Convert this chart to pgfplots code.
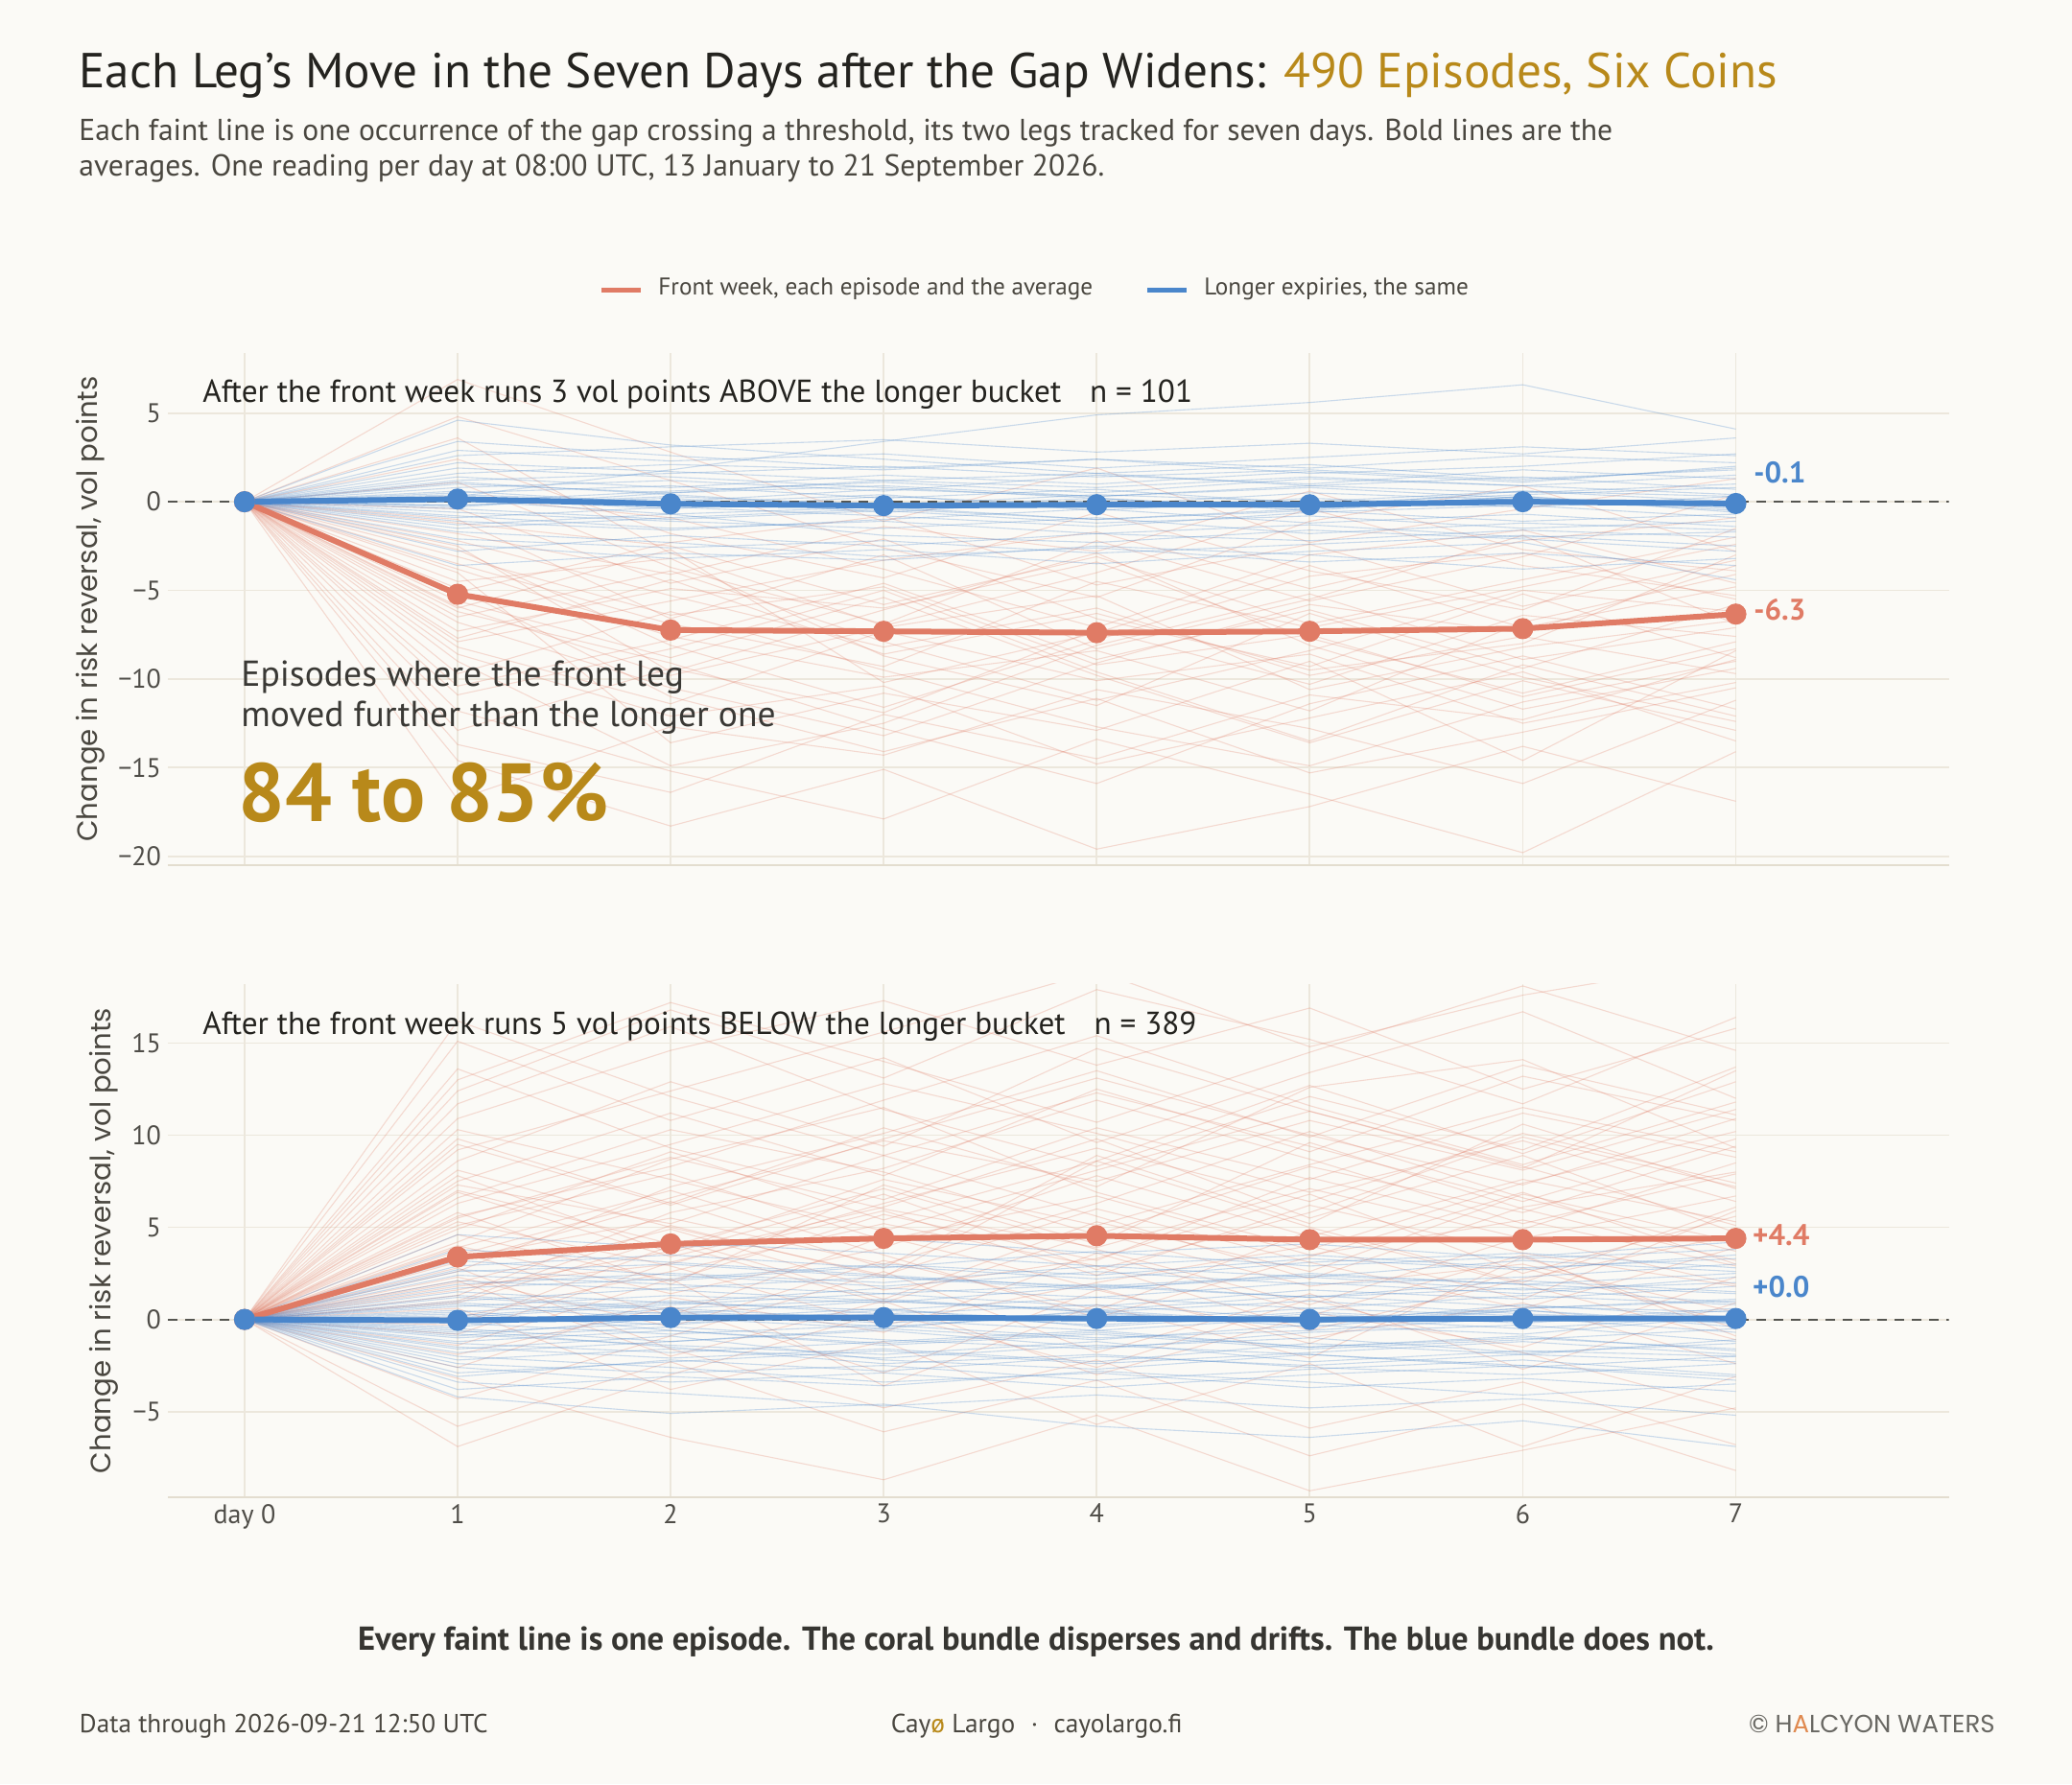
\documentclass[border=0pt]{standalone}
\usepackage{fontspec}
\setmainfont{PT Sans}
\newfontfamily\ylabfont{Poppins}
\usepackage{pgfplots}
\pgfplotsset{compat=1.18}
\definecolor{bg}{HTML}{FBFAF6}
\definecolor{coralc}{HTML}{E07B65}
\definecolor{bluec}{HTML}{4A86CB}
\definecolor{goldc}{HTML}{B8891A}
\definecolor{gridc}{HTML}{ECE7DC}
\definecolor{axisc}{HTML}{E3DDCF}
\definecolor{inkc}{HTML}{24231F}
\definecolor{subc}{HTML}{4A4740}
\definecolor{tickc}{HTML}{4F4D48}
\definecolor{dashc}{HTML}{555550}
\definecolor{orangec}{HTML}{E08A50}

\pgfplotsset{
  panel/.style={
    scale only axis, width=928.3pt,
    xmin=-0.36, xmax=8,
    xtick={0,1,2,3,4,5,6,7},
    grid=major,
    major grid style={draw=gridc, line width=0.9pt},
    separate axis lines,
    axis lines*=left,
    x axis line style={draw=axisc, line width=1.2pt, -},
    y axis line style={draw=none},
    major tick length=0pt,
    tick label style={font=\fontsize{14}{16}\selectfont, text=tickc},
    ylabel={Change in risk reversal, vol points},
    ylabel style={font=\ylabfont\fontsize{14.6}{16}\selectfont, text=subc},
  },
  fc/.style={coralc, opacity=0.26, line width=0.55pt, mark=none},
  fb/.style={bluec, opacity=0.28, line width=0.55pt, mark=none},
  zl/.style={dashc, dash pattern=on 5pt off 4pt, line width=0.9pt, mark=none},
  ac/.style={coralc, line width=3pt, mark=*, mark size=4pt, mark options={solid, fill=coralc, draw=coralc}},
  ab/.style={bluec, line width=3pt, mark=*, mark size=4pt, mark options={solid, fill=bluec, draw=bluec}},
}

\begin{document}
\begin{tikzpicture}
\fill[bg] (0pt,0pt) rectangle (1080pt,930pt);

% ---------------- top panel ----------------
\begin{axis}[panel, at={(87.5pt,746.05pt)}, anchor=north west, height=267pt,
  ymin=-20.5, ymax=8.4,
  ytick={-20,-15,-10,-5,0,5}, yticklabels={−20,−15,−10,−5,0,5},
  xticklabels={}]
\addplot[fc] coordinates {(0,0)(1,-3.1)(2,-6.4)(3,-4.8)(4,-9.2)(5,-7.5)(6,-11.0)(7,-8.3)};
\addplot[fc] coordinates {(0,0)(1,-8.6)(2,-12.1)(3,-10.4)(4,-14.8)(5,-12.2)(6,-9.6)(7,-13.5)};
\addplot[fc] coordinates {(0,0)(1,-1.2)(2,-2.5)(3,-5.8)(4,-3.1)(5,-6.9)(6,-4.4)(7,-2.0)};
\addplot[fc] coordinates {(0,0)(1,-5.9)(2,-9.8)(3,-7.1)(4,-5.3)(5,-10.6)(6,-8.2)(7,-6.7)};
\addplot[fc] coordinates {(0,0)(1,2.4)(2,-1.8)(3,-4.3)(4,-0.6)(5,-3.9)(6,-6.1)(7,-1.5)};
\addplot[fc] coordinates {(0,0)(1,-11.8)(2,-15.2)(3,-17.9)(4,-13.4)(5,-16.5)(6,-19.8)(7,-14.1)};
\addplot[fc] coordinates {(0,0)(1,-4.5)(2,-3.2)(3,-8.7)(4,-11.5)(5,-6.3)(6,-9.9)(7,-12.4)};
\addplot[fc] coordinates {(0,0)(1,-6.8)(2,-10.5)(3,-13.2)(4,-9.1)(5,-5.8)(6,-7.4)(7,-3.6)};
\addplot[fc] coordinates {(0,0)(1,-0.4)(2,-4.6)(3,-2.1)(4,-6.6)(5,-9.3)(6,-5.2)(7,-8.8)};
\addplot[fc] coordinates {(0,0)(1,-9.7)(2,-6.2)(3,-9.5)(4,-12.7)(5,-14.9)(6,-11.3)(7,-9.0)};
\addplot[fc] coordinates {(0,0)(1,-2.7)(2,-8.1)(3,-11.6)(4,-7.8)(5,-4.2)(6,-2.9)(7,-5.5)};
\addplot[fc] coordinates {(0,0)(1,-7.3)(2,-4.9)(3,-6.0)(4,-3.4)(5,-7.7)(6,-10.8)(7,-7.9)};
\addplot[fc] coordinates {(0,0)(1,4.8)(2,1.2)(3,-2.6)(4,-5.4)(5,-1.1)(6,0.9)(7,-2.8)};
\addplot[fc] coordinates {(0,0)(1,-14.6)(2,-18.3)(3,-15.1)(4,-19.6)(5,-17.2)(6,-13.8)(7,-16.9)};
\addplot[fc] coordinates {(0,0)(1,-3.8)(2,-7.6)(3,-9.9)(4,-8.4)(5,-11.8)(6,-6.8)(7,-4.1)};
\addplot[fc] coordinates {(0,0)(1,-5.1)(2,-2.3)(3,-0.8)(4,-4.7)(5,-2.4)(6,-5.9)(7,-3.3)};
\addplot[fc] coordinates {(0,0)(1,-8.2)(2,-11.4)(3,-7.3)(4,-10.1)(5,-8.6)(6,-12.5)(7,-10.2)};
\addplot[fc] coordinates {(0,0)(1,1.1)(2,-3.7)(3,-6.9)(4,-2.2)(5,-5.6)(6,-3.1)(7,0.4)};
\addplot[fc] coordinates {(0,0)(1,-6.2)(2,-9.1)(3,-12.8)(4,-15.9)(5,-11.4)(6,-8.7)(7,-11.7)};
\addplot[fc] coordinates {(0,0)(1,-10.4)(2,-7.8)(3,-4.6)(4,-8.9)(5,-6.1)(6,-9.4)(7,-5.8)};
\addplot[fc] coordinates {(0,0)(1,-2.2)(2,-5.3)(3,-8.2)(4,-6.0)(5,-9.8)(6,-7.6)(7,-9.7)};
\addplot[fc] coordinates {(0,0)(1,-4.0)(2,-13.6)(3,-10.8)(4,-12.9)(5,-9.0)(6,-14.6)(7,-8.4)};
\addplot[fc] coordinates {(0,0)(1,-7.9)(2,-5.6)(3,-3.3)(4,-1.7)(5,-4.9)(6,-2.2)(7,-0.9)};
\addplot[fc] coordinates {(0,0)(1,-12.9)(2,-9.4)(3,-11.9)(4,-7.2)(5,-10.3)(6,-6.4)(7,-7.6)};
\addplot[fc] coordinates {(0,0)(1,0.3)(2,-0.9)(3,-3.8)(4,-7.1)(5,-3.0)(6,-1.6)(7,-4.6)};
\addplot[fc] coordinates {(0,0)(1,-5.6)(2,-8.8)(3,-5.4)(4,-9.8)(5,-13.6)(6,-10.1)(7,-12.9)};
\addplot[fc] coordinates {(0,0)(1,-16.8)(2,-12.7)(3,-14.3)(4,-10.6)(5,-12.8)(6,-15.9)(7,-11.2)};
\addplot[fc] coordinates {(0,0)(1,-3.5)(2,-6.9)(3,-9.3)(4,-4.5)(5,-7.1)(6,-4.8)(7,-2.4)};
\addplot[fc] coordinates {(0,0)(1,-1.8)(2,-4.1)(3,-1.4)(4,-2.8)(5,0.6)(6,-2.7)(7,-3.9)};
\addplot[fc] coordinates {(0,0)(1,-6.5)(2,-3.9)(3,-7.9)(4,-11.2)(5,-8.4)(6,-5.0)(7,-6.2)};
\addplot[fc] coordinates {(0,0)(1,6.9)(2,2.8)(3,-1.1)(4,1.9)(5,-2.3)(6,-0.4)(7,1.3)};
\addplot[fc] coordinates {(0,0)(1,-9.0)(2,-14.9)(3,-12.5)(4,-8.1)(5,-5.2)(6,-8.9)(7,-7.1)};
\addplot[fc] coordinates {(0,0)(1,-2.5)(2,-9.6)(3,-6.1)(4,-2.9)(5,-8.1)(6,-11.7)(7,-9.4)};
\addplot[fc] coordinates {(0,0)(1,-10.9)(2,-8.3)(3,-5.0)(4,-9.6)(5,-13.5)(6,-9.2)(7,-12.1)};
\addplot[fc] coordinates {(0,0)(1,-6.0)(2,-2.7)(3,-10.2)(4,-7.4)(5,-3.6)(6,-7.1)(7,-4.8)};
\addplot[fc] coordinates {(0,0)(1,-13.7)(2,-16.4)(3,-12.0)(4,-14.5)(5,-10.9)(6,-12.3)(7,-8.9)};
\addplot[fc] coordinates {(0,0)(1,-1.0)(2,-6.6)(3,-3.0)(4,-8.3)(5,-5.5)(6,-1.9)(7,-6.9)};
\addplot[fc] coordinates {(0,0)(1,-4.9)(2,-11.0)(3,-14.1)(4,-11.1)(5,-15.3)(6,-13.0)(7,-10.5)};
\addplot[fc] coordinates {(0,0)(1,3.6)(2,-2.9)(3,-7.0)(4,-4.0)(5,-0.4)(6,-3.6)(7,-5.3)};
\addplot[fc] coordinates {(0,0)(1,-7.7)(2,-4.4)(3,-8.6)(4,-6.3)(5,-9.5)(6,-8.0)(7,-3.0)};
% blue faint
\addplot[fb] coordinates {(0,0)(1,0.8)(2,1.2)(3,0.6)(4,1.5)(5,1.0)(6,1.8)(7,1.3)};
\addplot[fb] coordinates {(0,0)(1,-0.6)(2,-1.1)(3,-1.5)(4,-0.9)(5,-1.8)(6,-1.2)(7,-1.6)};
\addplot[fb] coordinates {(0,0)(1,1.6)(2,2.1)(3,1.8)(4,2.4)(5,1.9)(6,2.6)(7,2.2)};
\addplot[fb] coordinates {(0,0)(1,-1.3)(2,-0.7)(3,-1.9)(4,-2.3)(5,-1.6)(6,-2.1)(7,-2.8)};
\addplot[fb] coordinates {(0,0)(1,0.2)(2,-0.4)(3,0.3)(4,-0.2)(5,0.5)(6,0.1)(7,-0.3)};
\addplot[fb] coordinates {(0,0)(1,2.9)(2,2.3)(3,2.7)(4,1.9)(5,2.5)(6,3.1)(7,2.6)};
\addplot[fb] coordinates {(0,0)(1,-2.1)(2,-2.6)(3,-2.2)(4,-2.9)(5,-2.4)(6,-1.9)(7,-2.5)};
\addplot[fb] coordinates {(0,0)(1,0.5)(2,0.9)(3,0.2)(4,0.7)(5,-0.1)(6,0.4)(7,0.8)};
\addplot[fb] coordinates {(0,0)(1,-0.9)(2,-0.3)(3,-0.8)(4,-1.4)(5,-0.6)(6,-0.2)(7,-0.9)};
\addplot[fb] coordinates {(0,0)(1,4.6)(2,3.2)(3,2.4)(4,1.6)(5,2.1)(6,1.3)(7,1.8)};
\addplot[fb] coordinates {(0,0)(1,1.1)(2,0.4)(3,-0.3)(4,0.2)(5,-0.5)(6,0.3)(7,-0.4)};
\addplot[fb] coordinates {(0,0)(1,-1.7)(2,-2.3)(3,-3.1)(4,-2.6)(5,-3.4)(6,-2.9)(7,-3.6)};
\addplot[fb] coordinates {(0,0)(1,0.0)(2,0.6)(3,1.1)(4,0.5)(5,1.3)(6,0.9)(7,1.5)};
\addplot[fb] coordinates {(0,0)(1,-0.4)(2,-1.0)(3,-0.5)(4,-1.2)(5,-0.8)(6,-1.5)(7,-1.1)};
\addplot[fb] coordinates {(0,0)(1,2.2)(2,1.7)(3,1.2)(4,1.6)(5,0.9)(6,1.4)(7,0.7)};
\addplot[fb] coordinates {(0,0)(1,-2.8)(2,-1.9)(3,-2.5)(4,-1.8)(5,-2.2)(6,-1.6)(7,-2.0)};
\addplot[fb] coordinates {(0,0)(1,0.3)(2,1.8)(3,3.4)(4,4.9)(5,5.6)(6,6.6)(7,4.1)};
\addplot[fb] coordinates {(0,0)(1,-0.2)(2,0.2)(3,-0.6)(4,0.1)(5,-0.3)(6,0.6)(7,0.0)};
\addplot[fb] coordinates {(0,0)(1,1.4)(2,0.8)(3,1.5)(4,1.0)(5,1.7)(6,1.1)(7,2.0)};
\addplot[fb] coordinates {(0,0)(1,-1.1)(2,-1.6)(3,-1.0)(4,-0.4)(5,-1.2)(6,-0.7)(7,-1.4)};
\addplot[fb] coordinates {(0,0)(1,3.4)(2,2.6)(3,1.9)(4,2.4)(5,1.6)(6,2.0)(7,2.7)};
\addplot[fb] coordinates {(0,0)(1,-3.6)(2,-2.9)(3,-3.3)(4,-2.5)(5,-3.0)(6,-3.8)(7,-3.2)};
\addplot[fb] coordinates {(0,0)(1,0.6)(2,-0.1)(3,0.4)(4,-0.5)(5,0.2)(6,-0.3)(7,0.3)};
\addplot[fb] coordinates {(0,0)(1,-0.3)(2,0.5)(3,0.9)(4,0.3)(5,0.8)(6,0.2)(7,-0.2)};
\addplot[fb] coordinates {(0,0)(1,1.9)(2,1.4)(3,0.8)(4,0.2)(5,-0.4)(6,0.3)(7,-0.6)};
\addplot[fb] coordinates {(0,0)(1,-2.4)(2,-3.2)(3,-2.7)(4,-3.5)(5,-2.8)(6,-2.3)(7,-4.4)};
\addplot[fb] coordinates {(0,0)(1,0.4)(2,0.0)(3,0.7)(4,0.3)(5,0.9)(6,0.5)(7,1.0)};
\addplot[fb] coordinates {(0,0)(1,-0.8)(2,-1.5)(3,-1.1)(4,-1.8)(5,-1.3)(6,-2.0)(7,-1.7)};
\addplot[fb] coordinates {(0,0)(1,1.2)(2,1.6)(3,2.0)(4,1.4)(5,1.8)(6,1.2)(7,1.9)};
\addplot[fb] coordinates {(0,0)(1,-1.5)(2,-0.9)(3,-0.4)(4,-1.0)(5,-0.5)(6,-1.1)(7,-0.7)};
\addplot[fb] coordinates {(0,0)(1,2.6)(2,3.1)(3,3.5)(4,2.8)(5,3.3)(6,2.7)(7,3.6)};
\addplot[fb] coordinates {(0,0)(1,0.1)(2,-0.7)(3,-0.3)(4,-1.0)(5,-0.4)(6,0.2)(7,-0.5)};
\addplot[fb] coordinates {(0,0)(1,-0.2)(2,0.3)(3,-0.2)(4,0.4)(5,0.0)(6,0.6)(7,0.3)};
\addplot[fb] coordinates {(0,0)(1,1.0)(2,0.5)(3,1.2)(4,0.8)(5,1.4)(6,0.9)(7,0.4)};
% zero line and averages
\addplot[zl] coordinates {(-0.36,0)(8,0)};
\addplot[ac] coordinates {(0,0)(1,-5.22)(2,-7.24)(3,-7.31)(4,-7.39)(5,-7.31)(6,-7.16)(7,-6.34)};
\addplot[ab] coordinates {(0,0)(1,0.15)(2,-0.12)(3,-0.22)(4,-0.17)(5,-0.17)(6,0.0)(7,-0.1)};
\end{axis}

% ---------------- bottom panel ----------------
\begin{axis}[panel, at={(87.5pt,417pt)}, anchor=north west, height=267.5pt,
  ymin=-9.65, ymax=18.2,
  ytick={-5,0,5,10,15}, yticklabels={−5,0,5,10,15},
  xticklabels={day 0,1,2,3,4,5,6,7}]
\addplot[fc] coordinates {(0,0)(1,3.1)(2,6.4)(3,2.8)(4,8.9)(5,5.2)(6,10.6)(7,7.1)};
\addplot[fc] coordinates {(0,0)(1,8.6)(2,12.9)(3,9.4)(4,14.7)(5,11.3)(6,8.2)(7,13.5)};
\addplot[fc] coordinates {(0,0)(1,-1.4)(2,2.2)(3,-3.6)(4,0.8)(5,-2.1)(6,3.4)(7,-0.5)};
\addplot[fc] coordinates {(0,0)(1,5.8)(2,1.9)(3,7.3)(4,4.1)(5,9.6)(6,6.0)(7,3.2)};
\addplot[fc] coordinates {(0,0)(1,12.4)(2,16.8)(3,13.1)(4,17.9)(5,15.2)(6,11.7)(7,16.4)};
\addplot[fc] coordinates {(0,0)(1,0.6)(2,-3.8)(3,-1.2)(4,-5.7)(5,-2.4)(6,-6.9)(7,-3.1)};
\addplot[fc] coordinates {(0,0)(1,4.2)(2,8.7)(3,11.5)(4,6.9)(5,3.8)(6,7.4)(7,10.2)};
\addplot[fc] coordinates {(0,0)(1,2.0)(2,4.9)(3,1.6)(4,3.3)(5,6.8)(6,2.5)(7,5.6)};
\addplot[fc] coordinates {(0,0)(1,6.9)(2,3.4)(3,6.1)(4,9.8)(5,5.5)(6,8.9)(7,4.7)};
\addplot[fc] coordinates {(0,0)(1,-4.3)(2,-0.9)(3,2.6)(4,-1.8)(5,1.4)(6,-2.7)(7,0.9)};
\addplot[fc] coordinates {(0,0)(1,9.8)(2,6.3)(3,10.4)(4,7.2)(5,12.6)(6,14.1)(7,9.3)};
\addplot[fc] coordinates {(0,0)(1,1.3)(2,5.8)(3,8.2)(4,11.9)(5,8.7)(6,5.2)(7,7.9)};
\addplot[fc] coordinates {(0,0)(1,3.7)(2,0.2)(3,4.5)(4,1.7)(5,-1.3)(6,2.8)(7,-0.2)};
\addplot[fc] coordinates {(0,0)(1,15.1)(2,10.8)(3,14.2)(4,9.6)(5,13.4)(6,16.7)(7,12.0)};
\addplot[fc] coordinates {(0,0)(1,-0.8)(2,3.1)(3,5.9)(4,2.4)(5,6.2)(6,3.6)(7,1.8)};
\addplot[fc] coordinates {(0,0)(1,7.5)(2,11.2)(3,7.8)(4,12.5)(5,9.1)(6,13.2)(7,10.8)};
\addplot[fc] coordinates {(0,0)(1,2.8)(2,-1.6)(3,-4.8)(4,-2.2)(5,-5.9)(6,-3.4)(7,-6.8)};
\addplot[fc] coordinates {(0,0)(1,5.1)(2,7.9)(3,4.3)(4,6.7)(5,3.5)(6,5.4)(7,2.9)};
\addplot[fc] coordinates {(0,0)(1,10.9)(2,14.6)(3,17.3)(4,13.8)(5,16.9)(6,12.5)(7,15.8)};
\addplot[fc] coordinates {(0,0)(1,-2.6)(2,1.2)(3,-0.7)(4,3.6)(5,0.4)(6,-1.5)(7,2.3)};
\addplot[fc] coordinates {(0,0)(1,4.6)(2,2.1)(3,5.7)(4,3.2)(5,7.7)(6,4.9)(7,8.5)};
\addplot[fc] coordinates {(0,0)(1,6.3)(2,9.5)(3,12.8)(4,10.1)(5,6.9)(6,9.7)(7,6.4)};
\addplot[fc] coordinates {(0,0)(1,0.9)(2,4.4)(3,1.1)(4,5.3)(5,2.6)(6,6.8)(7,4.2)};
\addplot[fc] coordinates {(0,0)(1,8.1)(2,5.0)(3,2.4)(4,6.0)(5,3.1)(6,0.6)(7,3.9)};
\addplot[fc] coordinates {(0,0)(1,-5.8)(2,-2.3)(3,-6.1)(4,-3.3)(5,-7.4)(6,-4.6)(7,-8.2)};
\addplot[fc] coordinates {(0,0)(1,3.5)(2,6.6)(3,9.7)(4,7.5)(5,10.8)(6,8.1)(7,11.4)};
\addplot[fc] coordinates {(0,0)(1,13.6)(2,9.3)(3,6.5)(4,10.4)(5,7.6)(6,11.2)(7,8.8)};
\addplot[fc] coordinates {(0,0)(1,2.3)(2,-0.4)(3,3.2)(4,0.5)(5,4.8)(6,1.9)(7,-1.1)};
\addplot[fc] coordinates {(0,0)(1,5.5)(2,8.8)(3,6.0)(4,3.9)(5,7.1)(6,4.4)(7,6.7)};
\addplot[fc] coordinates {(0,0)(1,1.6)(2,3.7)(3,7.6)(4,5.1)(5,8.4)(6,11.5)(7,9.1)};
\addplot[fc] coordinates {(0,0)(1,7.0)(2,4.1)(3,0.9)(4,4.7)(5,1.8)(6,3.0)(7,0.4)};
\addplot[fc] coordinates {(0,0)(1,-1.9)(2,0.7)(3,-2.9)(4,1.6)(5,-1.0)(6,0.9)(7,-2.4)};
\addplot[fc] coordinates {(0,0)(1,11.7)(2,15.9)(3,11.4)(4,8.3)(5,12.1)(6,9.2)(7,13.7)};
\addplot[fc] coordinates {(0,0)(1,4.0)(2,1.4)(3,3.9)(4,7.8)(5,4.5)(6,7.6)(7,5.3)};
\addplot[fc] coordinates {(0,0)(1,9.2)(2,12.4)(3,15.6)(4,18.9)(5,14.8)(6,17.6)(7,19.5)};
\addplot[fc] coordinates {(0,0)(1,0.1)(2,2.6)(3,5.2)(4,2.9)(5,-0.6)(6,2.2)(7,4.6)};
\addplot[fc] coordinates {(0,0)(1,6.6)(2,10.3)(3,8.0)(4,4.6)(5,8.3)(6,5.8)(7,9.4)};
\addplot[fc] coordinates {(0,0)(1,-3.2)(2,-6.4)(3,-8.7)(4,-5.2)(5,-9.3)(6,-7.1)(7,-4.8)};
\addplot[fc] coordinates {(0,0)(1,3.3)(2,5.5)(3,3.0)(4,6.3)(5,10.2)(6,6.6)(7,3.7)};
\addplot[fc] coordinates {(0,0)(1,7.8)(2,3.6)(3,6.8)(4,2.7)(5,5.8)(6,9.9)(7,7.2)};
\addplot[fc] coordinates {(0,0)(1,2.6)(2,7.2)(3,10.1)(4,13.5)(5,9.9)(6,13.8)(7,11.1)};
\addplot[fc] coordinates {(0,0)(1,5.3)(2,2.9)(3,-0.3)(4,2.0)(5,4.0)(6,1.1)(7,5.9)};
\addplot[fc] coordinates {(0,0)(1,1.0)(2,5.1)(3,2.3)(4,8.6)(5,5.0)(6,2.0)(7,6.1)};
\addplot[fc] coordinates {(0,0)(1,16.2)(2,12.1)(3,8.9)(4,12.3)(5,9.4)(6,6.4)(7,9.8)};
\addplot[fc] coordinates {(0,0)(1,9.5)(2,6.2)(3,9.8)(4,13.1)(5,10.0)(6,7.3)(7,10.9)};
\addplot[fc] coordinates {(0,0)(1,-0.3)(2,4.0)(3,7.1)(4,3.8)(5,0.8)(6,4.5)(7,1.9)};
\addplot[fc] coordinates {(0,0)(1,4.9)(2,9.1)(3,5.4)(4,8.6)(5,12.7)(6,9.0)(7,12.9)};
\addplot[fc] coordinates {(0,0)(1,13.0)(2,17.2)(3,14.0)(4,10.7)(5,14.5)(6,18.1)(7,14.6)};
\addplot[fc] coordinates {(0,0)(1,2.1)(2,-2.0)(3,1.0)(4,-3.0)(5,0.2)(6,3.5)(7,-0.9)};
\addplot[fc] coordinates {(0,0)(1,7.3)(2,5.2)(3,8.9)(4,5.6)(5,2.2)(6,6.1)(7,8.0)};
\addplot[fc] coordinates {(0,0)(1,-6.9)(2,-3.0)(3,0.4)(4,-2.6)(5,1.1)(6,-1.8)(7,-4.9)};
\addplot[fc] coordinates {(0,0)(1,5.6)(2,8.3)(3,11.9)(4,15.4)(5,11.6)(6,8.4)(7,11.8)};
\addplot[fc] coordinates {(0,0)(1,3.9)(2,7.0)(3,3.5)(4,0.1)(5,3.4)(6,6.9)(7,3.0)};
\addplot[fc] coordinates {(0,0)(1,10.3)(2,7.6)(3,4.8)(4,8.1)(5,11.3)(6,8.3)(7,5.1)};
\addplot[fc] coordinates {(0,0)(1,1.8)(2,3.0)(3,6.3)(4,9.3)(5,6.4)(6,10.1)(7,7.4)};
% blue faint
\addplot[fb] coordinates {(0,0)(1,0.7)(2,1.3)(3,0.9)(4,1.8)(5,1.2)(6,2.1)(7,1.5)};
\addplot[fb] coordinates {(0,0)(1,-0.8)(2,-1.4)(3,-1.9)(4,-1.2)(5,-2.3)(6,-1.7)(7,-2.0)};
\addplot[fb] coordinates {(0,0)(1,1.9)(2,2.5)(3,2.0)(4,2.9)(5,2.3)(6,3.2)(7,2.6)};
\addplot[fb] coordinates {(0,0)(1,-1.6)(2,-0.9)(3,-2.2)(4,-2.7)(5,-1.9)(6,-2.5)(7,-3.1)};
\addplot[fb] coordinates {(0,0)(1,0.3)(2,-0.3)(3,0.5)(4,-0.1)(5,0.6)(6,0.2)(7,-0.2)};
\addplot[fb] coordinates {(0,0)(1,2.7)(2,2.1)(3,2.9)(4,2.2)(5,3.1)(6,3.6)(7,2.8)};
\addplot[fb] coordinates {(0,0)(1,-2.4)(2,-2.9)(3,-2.5)(4,-3.3)(5,-2.7)(6,-2.2)(7,-3.0)};
\addplot[fb] coordinates {(0,0)(1,0.4)(2,1.0)(3,0.3)(4,0.8)(5,0.0)(6,0.6)(7,1.1)};
\addplot[fb] coordinates {(0,0)(1,-1.0)(2,-0.4)(3,-1.1)(4,-1.6)(5,-0.7)(6,-0.3)(7,-1.2)};
\addplot[fb] coordinates {(0,0)(1,3.8)(2,3.1)(3,2.4)(4,1.7)(5,2.3)(6,1.6)(7,2.0)};
\addplot[fb] coordinates {(0,0)(1,1.2)(2,0.5)(3,-0.2)(4,0.4)(5,-0.4)(6,0.5)(7,-0.2)};
\addplot[fb] coordinates {(0,0)(1,-2.0)(2,-2.6)(3,-3.4)(4,-2.9)(5,-3.7)(6,-3.2)(7,-3.9)};
\addplot[fb] coordinates {(0,0)(1,0.1)(2,0.8)(3,1.4)(4,0.7)(5,1.6)(6,1.1)(7,1.8)};
\addplot[fb] coordinates {(0,0)(1,-0.5)(2,-1.2)(3,-0.6)(4,-1.5)(5,-1.0)(6,-1.8)(7,-1.3)};
\addplot[fb] coordinates {(0,0)(1,2.4)(2,1.9)(3,1.4)(4,1.9)(5,1.2)(6,1.7)(7,0.9)};
\addplot[fb] coordinates {(0,0)(1,-3.1)(2,-2.2)(3,-2.8)(4,-2.0)(5,-2.5)(6,-1.9)(7,-2.3)};
\addplot[fb] coordinates {(0,0)(1,-4.2)(2,-5.1)(3,-4.6)(4,-5.8)(5,-6.4)(6,-5.5)(7,-6.9)};
\addplot[fb] coordinates {(0,0)(1,-0.1)(2,0.4)(3,-0.4)(4,0.3)(5,-0.2)(6,0.8)(7,0.1)};
\addplot[fb] coordinates {(0,0)(1,1.5)(2,0.9)(3,1.7)(4,1.2)(5,2.0)(6,1.4)(7,2.3)};
\addplot[fb] coordinates {(0,0)(1,-1.3)(2,-1.8)(3,-1.2)(4,-0.6)(5,-1.5)(6,-0.9)(7,-1.7)};
\addplot[fb] coordinates {(0,0)(1,3.2)(2,2.4)(3,1.8)(4,2.6)(5,1.9)(6,2.3)(7,3.0)};
\addplot[fb] coordinates {(0,0)(1,-3.8)(2,-3.1)(3,-3.6)(4,-2.8)(5,-3.4)(6,-4.1)(7,-3.5)};
\addplot[fb] coordinates {(0,0)(1,0.8)(2,0.0)(3,0.6)(4,-0.4)(5,0.3)(6,-0.2)(7,0.5)};
\addplot[fb] coordinates {(0,0)(1,-0.4)(2,0.6)(3,1.1)(4,0.4)(5,1.0)(6,0.3)(7,-0.1)};
\addplot[fb] coordinates {(0,0)(1,2.1)(2,1.6)(3,1.0)(4,0.4)(5,-0.2)(6,0.5)(7,-0.4)};
\addplot[fb] coordinates {(0,0)(1,-2.6)(2,-3.4)(3,-2.9)(4,-3.7)(5,-3.0)(6,-2.5)(7,-3.3)};
\addplot[fb] coordinates {(0,0)(1,4.6)(2,3.9)(3,4.4)(4,3.6)(5,4.1)(6,3.3)(7,3.8)};
\addplot[fb] coordinates {(0,0)(1,-1.8)(2,-1.2)(3,-0.5)(4,-1.1)(5,-0.3)(6,-0.8)(7,0.2)};
\addplot[fb] coordinates {(0,0)(1,1.0)(2,1.7)(3,2.3)(4,1.6)(5,2.5)(6,1.9)(7,1.4)};
\addplot[fb] coordinates {(0,0)(1,-0.7)(2,-0.2)(3,0.3)(4,-0.3)(5,0.4)(6,-0.1)(7,0.6)};
\addplot[fb] coordinates {(0,0)(1,0.5)(2,-0.6)(3,-1.4)(4,-0.8)(5,-1.6)(6,-1.1)(7,-0.5)};
\addplot[fb] coordinates {(0,0)(1,-2.2)(2,-1.6)(3,-2.1)(4,-1.4)(5,-1.9)(6,-2.6)(7,-2.0)};
\addplot[fb] coordinates {(0,0)(1,1.7)(2,2.2)(3,3.0)(4,2.4)(5,3.3)(6,2.7)(7,3.5)};
\addplot[fb] coordinates {(0,0)(1,-1.5)(2,-2.1)(3,-1.6)(4,-2.3)(5,-1.3)(6,-1.9)(7,-1.1)};
\addplot[fb] coordinates {(0,0)(1,2.9)(2,3.5)(3,2.8)(4,3.7)(5,2.9)(6,3.4)(7,4.2)};
\addplot[fb] coordinates {(0,0)(1,-0.2)(2,-0.8)(3,-0.3)(4,-1.0)(5,-0.6)(6,0.1)(7,-0.7)};
\addplot[fb] coordinates {(0,0)(1,0.9)(2,0.3)(3,1.0)(4,0.5)(5,1.3)(6,0.7)(7,0.4)};
\addplot[fb] coordinates {(0,0)(1,-1.2)(2,-0.6)(3,-1.3)(4,-0.7)(5,-1.5)(6,-1.0)(7,-1.6)};
\addplot[fb] coordinates {(0,0)(1,2.6)(2,3.0)(3,2.3)(4,1.8)(5,2.4)(6,1.9)(7,2.5)};
\addplot[fb] coordinates {(0,0)(1,-0.6)(2,-1.5)(3,-2.4)(4,-1.9)(5,-2.6)(6,-3.0)(7,-2.4)};
\addplot[fb] coordinates {(0,0)(1,0.2)(2,0.9)(3,0.5)(4,1.2)(5,0.6)(6,1.3)(7,0.8)};
\addplot[fb] coordinates {(0,0)(1,-2.9)(2,-2.3)(3,-1.7)(4,-2.4)(5,-1.8)(6,-1.2)(7,-1.9)};
\addplot[fb] coordinates {(0,0)(1,1.3)(2,0.6)(3,0.0)(4,-0.6)(5,0.1)(6,-0.5)(7,0.2)};
\addplot[fb] coordinates {(0,0)(1,-0.9)(2,0.1)(3,-0.5)(4,0.5)(5,-0.2)(6,0.6)(7,1.0)};
\addplot[fb] coordinates {(0,0)(1,3.5)(2,4.2)(3,3.6)(4,2.9)(5,3.5)(6,2.8)(7,3.3)};
\addplot[fb] coordinates {(0,0)(1,-3.4)(2,-4.0)(3,-4.7)(4,-4.1)(5,-4.8)(6,-4.3)(7,-5.2)};
% zero line and averages
\addplot[zl] coordinates {(-0.36,0)(8,0)};
\addplot[ac] coordinates {(0,0)(1,3.39)(2,4.1)(3,4.4)(4,4.54)(5,4.33)(6,4.33)(7,4.4)};
\addplot[ab] coordinates {(0,0)(1,-0.05)(2,0.1)(3,0.1)(4,0.05)(5,0.0)(6,0.05)(7,0.05)};
\end{axis}

% ---------------- texts ----------------
\node[anchor=base west, inner sep=0pt, font=\fontsize{25.6}{30}\selectfont, text=inkc] at (41pt,884.2pt)
  {Each Leg's Move in the Seven Days after the Gap Widens: \textcolor{goldc}{490 Episodes, Six Coins}};
\node[anchor=base west, inner sep=0pt, font=\fontsize{15.8}{18}\selectfont, text=subc] at (41pt,856.7pt)
  {Each faint line is one occurrence of the gap crossing a threshold, its two legs tracked for seven days. Bold lines are the};
\node[anchor=base west, inner sep=0pt, font=\fontsize{15.8}{18}\selectfont, text=subc] at (41pt,838.3pt)
  {averages. One reading per day at 08:00 UTC, 13 January to 21 September 2026.};

% legend
\draw[coralc, line width=2.5pt] (313.5pt,778.8pt) -- (334pt,778.8pt);
\node[anchor=base west, inner sep=0pt, font=\fontsize{12.6}{14}\selectfont, text=subc] at (343pt,776pt)
  {Front week, each episode and the average};
\draw[bluec, line width=2.5pt] (598pt,778.8pt) -- (618.5pt,778.8pt);
\node[anchor=base west, inner sep=0pt, font=\fontsize{12.6}{14}\selectfont, text=subc] at (627.5pt,776pt)
  {Longer expiries, the same};

% panel titles
\node[anchor=base west, inner sep=0pt, font=\fontsize{16.6}{19}\selectfont, text=inkc] at (105.5pt,720.2pt)
  {After the front week runs 3 vol points ABOVE the longer bucket\hspace{0.9em}n = 101};
\node[anchor=base west, inner sep=0pt, font=\fontsize{16.6}{19}\selectfont, text=inkc] at (105.5pt,390.75pt)
  {After the front week runs 5 vol points BELOW the longer bucket\hspace{0.9em}n = 389};

% annotation
\node[anchor=base west, inner sep=0pt, font=\fontsize{18.8}{21}\selectfont, text=inkc!90] at (125.5pt,572pt)
  {Episodes where the front leg};
\node[anchor=base west, inner sep=0pt, font=\fontsize{18.8}{21}\selectfont, text=inkc!90] at (125.5pt,551.45pt)
  {moved further than the longer one};
\node[anchor=base west, inner sep=0pt, font=\bfseries\fontsize{43}{48}\selectfont, text=goldc] at (124pt,501.5pt)
  {84 to 85\%};

% end labels
\node[anchor=base west, inner sep=0pt, font=\bfseries\fontsize{15.5}{18}\selectfont, text=bluec] at (914pt,678.2pt) {-0.1};
\node[anchor=base west, inner sep=0pt, font=\bfseries\fontsize{15.5}{18}\selectfont, text=coralc] at (914pt,606.5pt) {-6.3};
\node[anchor=base west, inner sep=0pt, font=\bfseries\fontsize{15.5}{18}\selectfont, text=coralc] at (913.4pt,280.75pt) {+4.4};
\node[anchor=base west, inner sep=0pt, font=\bfseries\fontsize{15.5}{18}\selectfont, text=bluec] at (913.4pt,253.5pt) {+0.0};

% caption and footer
\node[anchor=base, inner sep=0pt, font=\bfseries\fontsize{17.3}{20}\selectfont, text=inkc!92] at (540pt,70pt)
  {Every faint line is one episode. The coral bundle disperses and drifts. The blue bundle does not.};
\node[anchor=base west, inner sep=0pt, font=\fontsize{13.6}{16}\selectfont, text=subc] at (41.3pt,26.65pt)
  {Data through 2026-09-21 12:50 UTC};
\node[anchor=base, inner sep=0pt, font=\fontsize{13.7}{16}\selectfont, text=subc] at (540.3pt,26.65pt)
  {Cay\textcolor{goldc}{ø} Largo\hspace{0.6em}·\hspace{0.6em}cayolargo.fi};
\node[anchor=base east, inner sep=0pt, font=\ylabfont\fontsize{13}{15}\selectfont, text=tickc!85] at (1040pt,26.65pt)
  {© H\textcolor{orangec}{A}LCYON WATERS};
\end{tikzpicture}
\end{document}
